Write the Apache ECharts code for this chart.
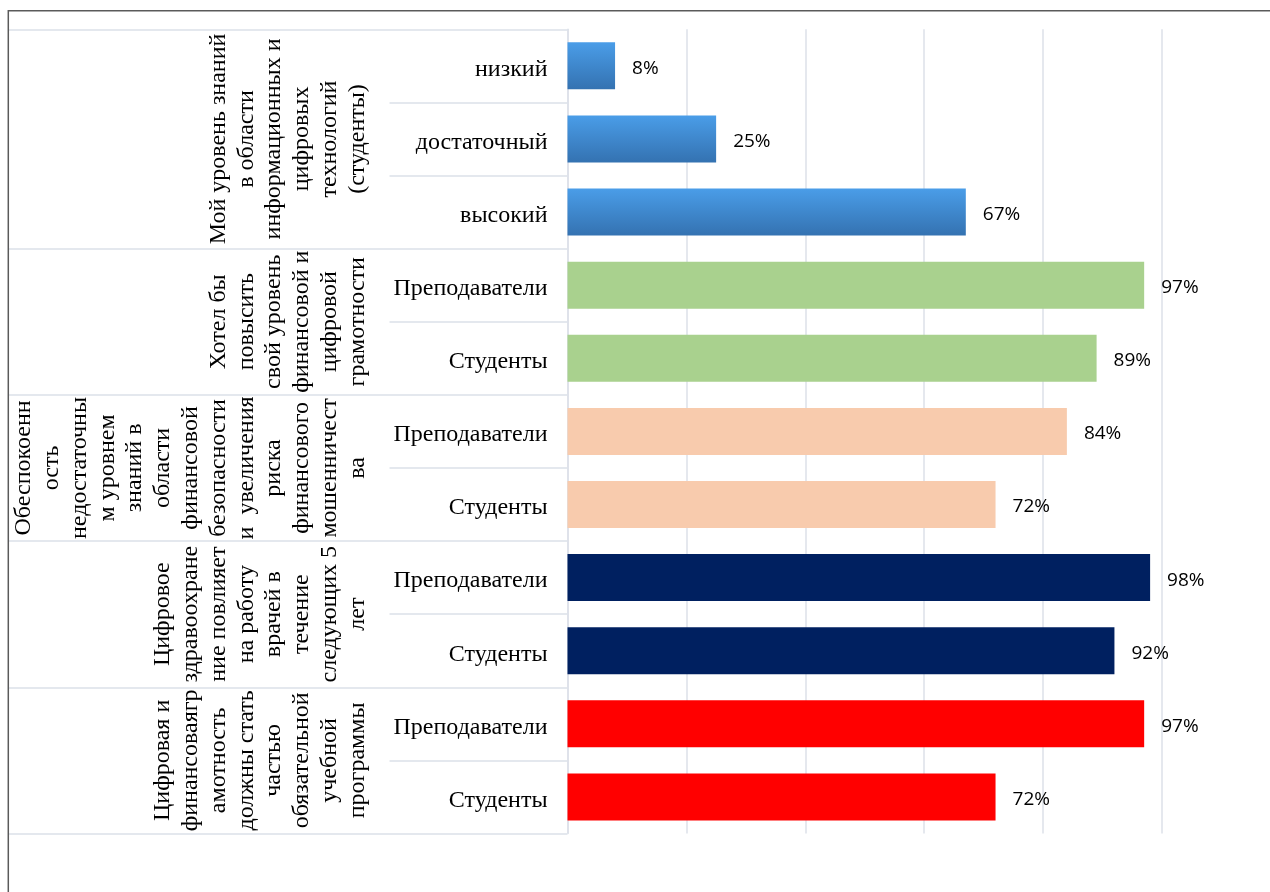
<!DOCTYPE html>
<html><head><meta charset="utf-8">
<script src="https://cdn.jsdelivr.net/npm/echarts@6/dist/echarts.min.js"></script>
<style>html,body{margin:0;padding:0;background:#fff}#c{width:1270px;height:892px}</style>
</head><body><div id="c"></div>
<script>
// ---- data ----
const categories = ['низкий', 'достаточный', 'высокий', 'Преподаватели', 'Студенты', 'Преподаватели', 'Студенты', 'Преподаватели', 'Студенты', 'Преподаватели', 'Студенты'];
const values = [8, 25, 67, 97, 89, 84, 72, 98, 92, 97, 72];
const groupLabels = [
  'Мой уровень знаний\nв области\nинформационных и\nцифровых\nтехнологий\n(студенты)',
  'Хотел бы\nповысить\nсвой уровень\nфинансовой и\nцифровой\nграмотности',
  'Обеспокоенн\nость\nнедостаточны\nм уровнем\nзнаний в\nобласти\nфинансовой\nбезопасности\nи  увеличения\nриска\nфинансового\nмошенничест\nва',
  'Цифровое\nздравоохране\nние повлияет\nна работу\nврачей в\nтечение\nследующих 5\nлет',
  'Цифровая и\nфинансоваягр\nамотность\nдолжны стать\nчастью\nобязательной\nучебной\nпрограммы'
];
const groupSizes = [3, 2, 2, 2, 2];
// ---- styles ----
const groupColors = [
  {type: 'linear', x: 0, y: 0, x2: 0, y2: 1, colorStops: [{offset: 0, color: '#4a9de8'}, {offset: 1, color: '#3472b1'}]},
  '#a9d18e', '#f8cbad', '#002060', '#ff0000'
];
const lineColor = '#dce1e9';

// build group half-row axis
const halfCount = categories.length * 2 + 1;
const halfData = new Array(halfCount).fill('');
const boundaries = [0];
const barData = [];
let start = 0;
groupSizes.forEach((n, g) => {
  halfData[2 * start + n] = groupLabels[g];
  for (let i = 0; i < n; i++) {
    barData.push({value: values[start + i], itemStyle: {color: groupColors[g]}});
  }
  start += n;
  boundaries.push(2 * start);
});

const chart = echarts.init(document.getElementById('c'));
chart.setOption({
  animation: false,
  backgroundColor: '#fff',
  grid: {left: 567.5, top: 29.3, right: 108, bottom: 58.5, containLabel: false, outerBoundsMode: 'none'},
  xAxis: {
    type: 'value', min: 0, max: 100, interval: 20,
    axisLabel: {show: false}, axisLine: {show: false}, axisTick: {show: false},
    splitLine: {show: true, lineStyle: {color: lineColor, width: 1.5}}
  },
  yAxis: [
    {
      type: 'category', inverse: true, data: categories, position: 'left',
      axisLine: {show: true, lineStyle: {color: lineColor, width: 1.5}},
      axisTick: {show: true, length: 178, lineStyle: {color: lineColor, width: 1.5}},
      axisLabel: {interval: 0, margin: 20, fontFamily: 'Liberation Serif', fontSize: 24, color: '#000', verticalAlign: 'top', lineHeight: 7}
    },
    {
      type: 'category', inverse: true, data: halfData, position: 'left', boundaryGap: false,
      axisLine: {show: false},
      axisTick: {show: true, length: 559, interval: (i) => boundaries.indexOf(i) >= 0, lineStyle: {color: lineColor, width: 1.5}},
      axisLabel: {interval: 0, rotate: 90, margin: 196, fontFamily: 'Liberation Serif', fontSize: 24, lineHeight: 27.8, color: '#000'}
    }
  ],
  series: [{
    type: 'bar', yAxisIndex: 0, data: barData, barCategoryGap: '35.7%',
    label: {show: true, position: 'right', distance: 17, formatter: '{c}%', fontFamily: 'Open Sans', fontSize: 19, color: '#000', verticalAlign: 'top', lineHeight: 5}
  }],
  graphic: [{
    type: 'rect', silent: true, z: 100,
    shape: {x: 8.3, y: 10.7, width: 1400, height: 1000},
    style: {fill: 'none', stroke: '#5a5a5a', lineWidth: 1.5}
  }]
});
</script></body></html>
